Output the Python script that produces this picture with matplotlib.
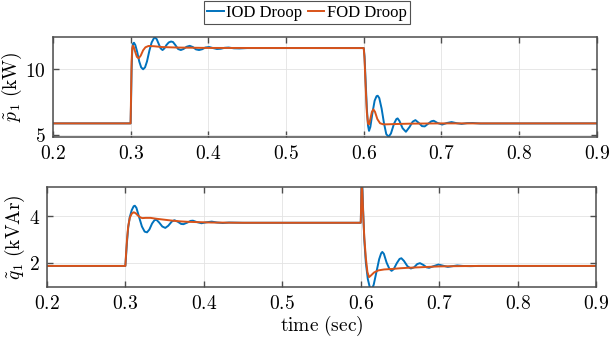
import matplotlib
matplotlib.use("Agg")
import matplotlib.pyplot as plt
from matplotlib.ticker import FuncFormatter, FixedLocator

plt.rcParams["mathtext.fontset"] = "cm"

# ---- data ----
# active power p1 (kW), IOD droop
t_p_iod = [0.200, 0.2999, 0.3005, 0.3012, 0.3020, 0.3030, 0.3042, 0.3060, 0.3085, 0.3110,
           0.3135, 0.3160, 0.3185, 0.3210, 0.3240, 0.3270, 0.3300, 0.3315, 0.3335, 0.3360,
           0.3385, 0.3410, 0.3435, 0.3460, 0.3490, 0.3520, 0.3545, 0.3575, 0.3610, 0.3645,
           0.3680, 0.3720, 0.3760, 0.3800, 0.3840, 0.3880, 0.3920, 0.3960, 0.4010, 0.4060,
           0.4110, 0.4160, 0.4210, 0.4260, 0.4330, 0.4400, 0.4500, 0.5999,
           0.6000, 0.6010, 0.6025, 0.6040, 0.6055, 0.6068, 0.6085, 0.6110, 0.6140, 0.6165,
           0.6180, 0.6200, 0.6230, 0.6260, 0.6290, 0.6320, 0.6350, 0.6390, 0.6420, 0.6436,
           0.6460, 0.6500, 0.6543, 0.6590, 0.6630, 0.6665, 0.6710, 0.6750, 0.6785, 0.6830,
           0.6870, 0.6900, 0.6950, 0.7010, 0.7070, 0.7130, 0.7200, 0.7260, 0.7330, 0.7400,
           0.7500, 0.9000]
p_iod = [5.87, 5.87, 7.5, 10.0, 11.4, 11.95, 12.03, 11.85, 11.3, 10.6,
         10.15, 10.0, 10.15, 10.6, 11.4, 12.05, 12.38, 12.42, 12.3, 11.95,
         11.6, 11.47, 11.6, 11.85, 12.05, 12.12, 12.08, 11.85, 11.55, 11.47,
         11.55, 11.72, 11.79, 11.7, 11.52, 11.47, 11.53, 11.66, 11.70, 11.62,
         11.55, 11.57, 11.64, 11.66, 11.60, 11.59, 11.62, 11.62,
         11.62, 11.0, 9.0, 7.0, 5.7, 5.3, 5.6, 6.6, 7.6, 7.95,
         7.98, 7.8, 7.0, 5.9, 5.05, 4.85, 5.1, 5.85, 6.2, 6.25,
         6.05, 5.5, 5.23, 5.6, 6.0, 6.12, 5.9, 5.66, 5.64, 5.85,
         6.03, 6.07, 5.9, 5.78, 5.9, 5.97, 5.88, 5.83, 5.89, 5.9,
         5.86, 5.87]

# active power p1 (kW), FOD droop
t_p_fod = [0.200, 0.2999, 0.3005, 0.3012, 0.3020, 0.3028, 0.3040, 0.3060, 0.3080, 0.3103,
           0.3130, 0.3160, 0.3190, 0.3230, 0.3300, 0.3400, 0.3600, 0.4000, 0.5999,
           0.6000, 0.6010, 0.6025, 0.6040, 0.6055, 0.6068, 0.6085, 0.6105, 0.6124, 0.6145,
           0.6175, 0.6210, 0.6250, 0.6300, 0.6400, 0.6600, 0.7000, 0.9000]
p_fod = [5.87, 5.87, 8.0, 10.6, 11.6, 11.8, 11.7, 11.3, 10.95, 10.84,
         11.05, 11.45, 11.68, 11.78, 11.76, 11.7, 11.66, 11.63, 11.62,
         11.62, 10.8, 8.6, 6.7, 5.85, 5.8, 6.2, 6.75, 6.94, 6.75,
         6.2, 5.88, 5.8, 5.8, 5.82, 5.85, 5.87, 5.87]

# reactive power q1 (kVAr), IOD droop
t_q_iod = [0.200, 0.2999, 0.3010, 0.3020, 0.3035, 0.3055, 0.3080, 0.3105, 0.3120, 0.3140,
           0.3170, 0.3210, 0.3245, 0.3275, 0.3305, 0.3340, 0.3370, 0.3395, 0.3430, 0.3470,
           0.3508, 0.3545, 0.3590, 0.3625, 0.3670, 0.3710, 0.3740, 0.3790, 0.3830, 0.3860,
           0.3910, 0.3970, 0.4030, 0.4100, 0.4170, 0.4240, 0.4320, 0.4500, 0.5999,
           0.6001, 0.6008, 0.6014, 0.6020, 0.6030, 0.6045, 0.6065, 0.6090, 0.6115, 0.6137,
           0.6165, 0.6200, 0.6235, 0.6260, 0.6275, 0.6295, 0.6330, 0.6365, 0.6393, 0.6420,
           0.6460, 0.6495, 0.6518, 0.6550, 0.6595, 0.6638, 0.6680, 0.6720, 0.6755, 0.6800,
           0.6840, 0.6872, 0.6920, 0.6990, 0.7050, 0.7110, 0.7170, 0.7230, 0.7300, 0.7400,
           0.7500, 0.9000]
q_iod = [1.86, 1.86, 2.4, 2.9, 3.5, 3.95, 4.25, 4.42, 4.44, 4.35,
         4.0, 3.55, 3.33, 3.30, 3.42, 3.68, 3.82, 3.84, 3.72, 3.55,
         3.49, 3.58, 3.76, 3.82, 3.75, 3.66, 3.65, 3.72, 3.79, 3.80,
         3.74, 3.69, 3.73, 3.76, 3.72, 3.70, 3.72, 3.71, 3.71,
         3.8, 5.0, 5.6, 5.4, 4.3, 3.0, 2.0, 1.3, 0.95, 0.85,
         1.05, 1.6, 2.15, 2.4, 2.46, 2.38, 2.0, 1.74, 1.65, 1.72,
         1.98, 2.16, 2.19, 2.08, 1.85, 1.75, 1.8, 1.94, 1.98, 1.9,
         1.8, 1.78, 1.84, 1.92, 1.87, 1.82, 1.85, 1.88, 1.86, 1.85,
         1.86, 1.86]

# reactive power q1 (kVAr), FOD droop
t_q_fod = [0.200, 0.2999, 0.3010, 0.3020, 0.3035, 0.3055, 0.3080, 0.3106, 0.3130, 0.3160,
           0.3190, 0.3215, 0.3260, 0.3320, 0.3400, 0.3500, 0.3600, 0.3700, 0.3800, 0.3900,
           0.4100, 0.4500, 0.5999,
           0.6001, 0.6008, 0.6013, 0.6020, 0.6030, 0.6045, 0.6065, 0.6085, 0.6106, 0.6130,
           0.6170, 0.6225, 0.6300, 0.6400, 0.6500, 0.6600, 0.6800, 0.7000, 0.7200, 0.7500,
           0.9000]
q_fod = [1.86, 1.86, 2.5, 3.0, 3.55, 3.92, 4.1, 4.16, 4.12, 4.02,
         3.94, 3.91, 3.92, 3.92, 3.88, 3.84, 3.8, 3.77, 3.75, 3.74,
         3.72, 3.71, 3.71,
         3.8, 4.9, 5.3, 5.1, 4.2, 3.1, 2.2, 1.6, 1.38, 1.45,
         1.58, 1.67, 1.71, 1.73, 1.76, 1.78, 1.81, 1.84, 1.85, 1.86,
         1.86]

x_ticks = [0.2, 0.3, 0.4, 0.5, 0.6, 0.7, 0.8, 0.9]
p_ticks = [5, 10]
q_ticks = [2, 4]
series_labels = ["IOD Droop", "FOD Droop"]

BLUE = "#0072BD"
ORANGE = "#D95319"
SPINE = "#4d4d4d"

fig = plt.figure(figsize=(6.09, 3.42), dpi=100)
ax1 = fig.add_axes([0.087, 0.599, 0.893, 0.293])
ax2 = fig.add_axes([0.0772, 0.161, 0.9015, 0.292])

ax1.plot(t_p_iod, p_iod, color=BLUE, lw=1.4, label=series_labels[0])
ax1.plot(t_p_fod, p_fod, color=ORANGE, lw=1.4, label=series_labels[1])
ax2.plot(t_q_iod, q_iod, color=BLUE, lw=1.4)
ax2.plot(t_q_fod, q_fod, color=ORANGE, lw=1.4)

ax1.set_ylim(4.82, 12.47)
ax2.set_ylim(0.96, 5.24)
ax1.yaxis.set_major_locator(FixedLocator(p_ticks))
ax2.yaxis.set_major_locator(FixedLocator(q_ticks))

for ax in (ax1, ax2):
    ax.set_xlim(0.2, 0.9)
    ax.xaxis.set_major_locator(FixedLocator(x_ticks))
    ax.xaxis.set_major_formatter(FuncFormatter(lambda v, _: f"${v:.1f}$"))
    ax.yaxis.set_major_formatter(FuncFormatter(lambda v, _: f"${int(round(v))}$"))
    ax.grid(True, color="#e3e3e3", lw=0.6)
    ax.set_axisbelow(True)
    for s in ax.spines.values():
        s.set_color(SPINE)
        s.set_linewidth(1.1)
    ax.tick_params(direction="in", top=True, right=True, length=4, width=1.0,
                   color=SPINE, labelsize=14, pad=5)

ax1.set_ylabel(r"$\tilde{p}_1\ \mathrm{(kW)}$", fontsize=14)
ax1.yaxis.set_label_coords(-0.075, 0.5)
ax1.yaxis.label.set_va("center")
ax2.set_ylabel(r"$\tilde{q}_1\ \mathrm{(kVAr)}$", fontsize=14)
ax2.yaxis.set_label_coords(-0.059, 0.5)
ax2.yaxis.label.set_va("center")
ax2.set_xlabel(r"$\mathrm{time\ (sec)}$", fontsize=14)
ax2.xaxis.set_label_coords(0.5, -0.39)
ax2.xaxis.label.set_va("center")

leg = fig.legend(loc="center", bbox_to_anchor=(0.504, 0.963), ncol=2,
                 prop={"family": "Liberation Serif", "size": 12},
                 frameon=True, fancybox=False, edgecolor="#262626",
                 handlelength=1.0, handletextpad=0.15, columnspacing=0.3,
                 borderpad=0.2, borderaxespad=0)
leg.get_frame().set_linewidth(0.8)

fig.savefig("out.png", dpi=100)
